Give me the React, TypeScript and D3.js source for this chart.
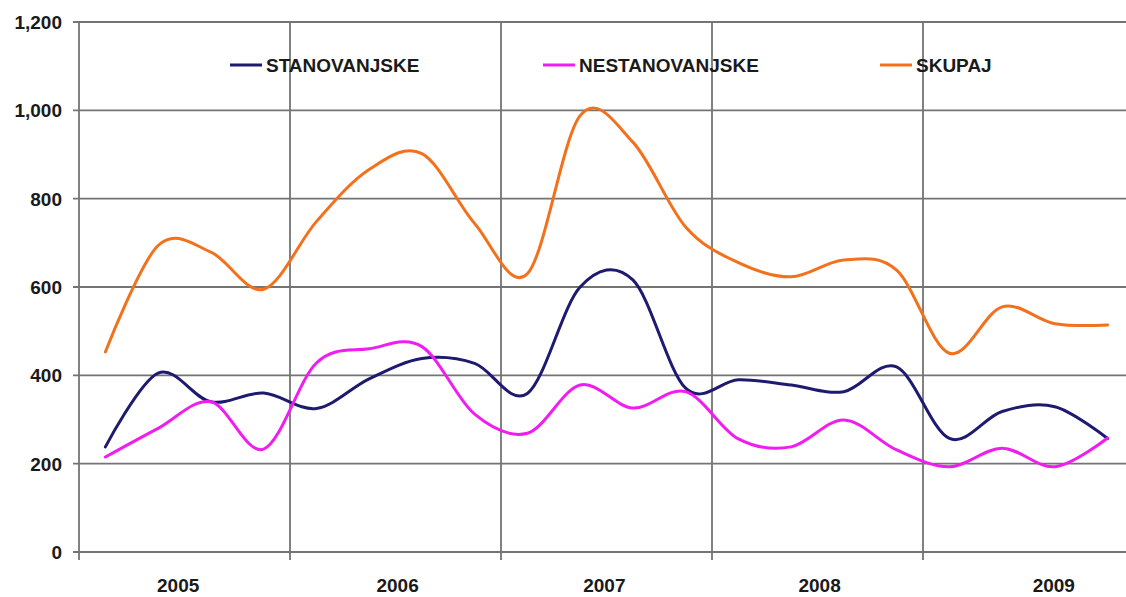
import React from "react";
import * as d3 from "d3";

// Quarterly values, 2005 Q1 – 2009 Q4
const quarters = [
  "2005Q1", "2005Q2", "2005Q3", "2005Q4",
  "2006Q1", "2006Q2", "2006Q3", "2006Q4",
  "2007Q1", "2007Q2", "2007Q3", "2007Q4",
  "2008Q1", "2008Q2", "2008Q3", "2008Q4",
  "2009Q1", "2009Q2", "2009Q3", "2009Q4",
];
const stanovanjske = [238, 405, 340, 360, 325, 392, 438, 427, 359, 600, 616, 371, 390, 378, 363, 419, 257, 318, 329, 257];
const nestanovanjske = [215, 280, 340, 233, 428, 460, 465, 312, 269, 378, 326, 363, 256, 238, 299, 231, 193, 235, 193, 258];
const skupaj = [453, 694, 679, 595, 748, 866, 902, 744, 630, 988, 928, 736, 655, 623, 661, 638, 450, 555, 517, 514];

const years = ["2005", "2006", "2007", "2008", "2009"];
// label anchor inside each year, as a fraction of the year's width
const yearLabelAt = [0.47, 0.51, 0.49, 0.51, 0.62];
const yTicks = [0, 200, 400, 600, 800, 1000, 1200];

const series = [
  { name: "STANOVANJSKE", values: stanovanjske, color: "#1d1a70" },
  { name: "NESTANOVANJSKE", values: nestanovanjske, color: "#f01cf0" },
  { name: "SKUPAJ", values: skupaj, color: "#f2711d" },
];
const legendX = [230, 543, 880];

const W = 1126;
const H = 597;
const left = 79;
const top = 22;
const bottom = 552;
const slot = 52.75;
const right = left + slot * quarters.length;

export default function App() {
  const x = d3.scaleBand<string>().domain(quarters).range([left, right]);
  const y = d3.scaleLinear().domain([0, 1200]).range([bottom, top]);
  const xc = (i: number) => (x(quarters[i]) as number) + x.bandwidth() / 2;
  const yearStart = (k: number) => x(quarters[k * 4]) as number;

  const line = d3
    .line<number>()
    .x((_, i) => xc(i))
    .y((d) => y(d))
    .curve(d3.curveCardinal.tension(0));

  const font = "'Liberation Sans', Arial, sans-serif";
  const grid = "#747474";
  const fs = 19;

  return (
    <svg
      width={W}
      height={H}
      style={{ position: "absolute", left: 0, top: 0, background: "#ffffff" }}
    >
      <rect x={0} y={0} width={W} height={H} fill="#ffffff" />
      {/* horizontal gridlines + y labels */}
      {yTicks.map((t) => (
        <g key={t}>
          <line x1={left - 6} x2={right} y1={y(t)} y2={y(t)} stroke={grid} strokeWidth={1.8} />
          <text
            x={62}
            y={y(t)}
            dy="0.36em"
            textAnchor="end"
            fontFamily={font}
            fontWeight="bold"
            fontSize={fs}
            fill="#1a1a1a"
          >
            {d3.format(",")(t)}
          </text>
        </g>
      ))}
      {/* vertical year dividers */}
      {years.map((yr, k) => (
        <line
          key={yr}
          x1={yearStart(k)}
          x2={yearStart(k)}
          y1={top}
          y2={bottom + 8}
          stroke={grid}
          strokeWidth={1.8}
        />
      ))}
      {/* year labels */}
      {years.map((yr, k) => (
        <text
          key={"l" + yr}
          x={yearStart(k) + slot * 4 * yearLabelAt[k]}
          y={592}
          textAnchor="middle"
          fontFamily={font}
          fontWeight="bold"
          fontSize={fs}
          fill="#1a1a1a"
        >
          {yr}
        </text>
      ))}
      {/* series */}
      {series.map((s) => (
        <path
          key={s.name}
          d={line(s.values) || ""}
          fill="none"
          stroke={s.color}
          strokeWidth={3}
          strokeLinejoin="round"
          strokeLinecap="round"
        />
      ))}
      {/* legend */}
      {series.map((s, i) => (
        <g key={"lg" + s.name}>
          <line x1={legendX[i]} x2={legendX[i] + 32} y1={65} y2={65} stroke={s.color} strokeWidth={3} />
          <text
            x={legendX[i] + 36}
            y={72}
            fontFamily={font}
            fontWeight="bold"
            fontSize={fs}
            fill="#1a1a1a"
          >
            {s.name}
          </text>
        </g>
      ))}
    </svg>
  );
}
